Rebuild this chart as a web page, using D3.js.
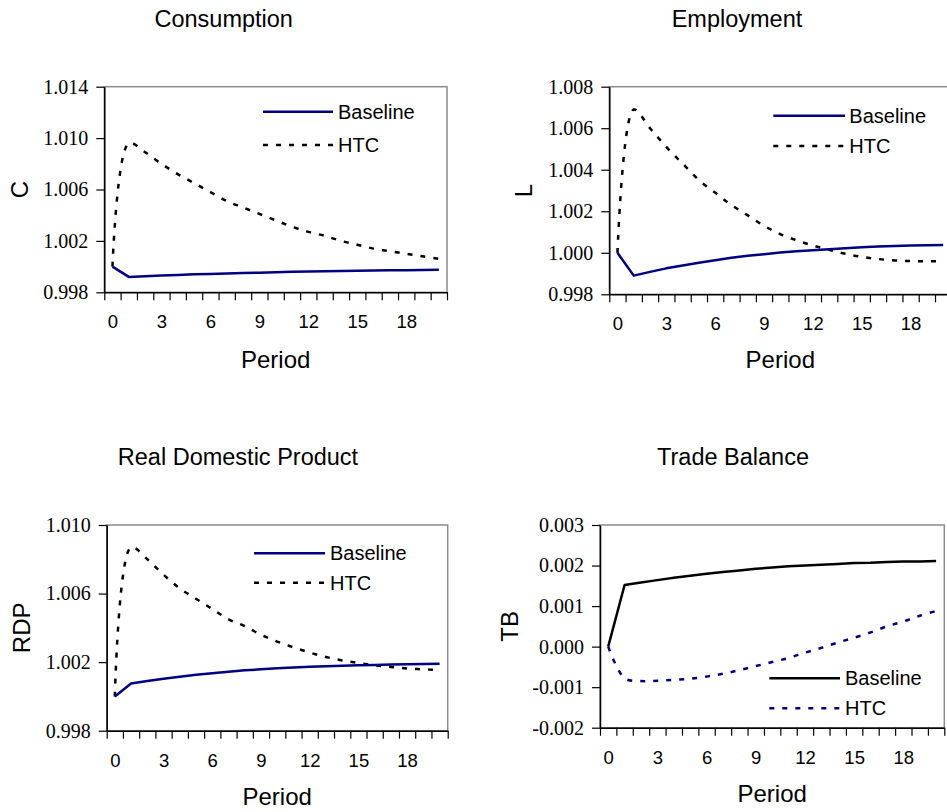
<!DOCTYPE html>
<html><head><meta charset="utf-8">
<script src="https://cdn.jsdelivr.net/npm/d3@7"></script>
<style>body{margin:0;background:#fff} svg{display:block}</style>
</head><body><svg id="c" width="947" height="812"></svg>
<script>
// ---- data ----
const periods = [0,1,2,3,4,5,6,7,8,9,10,11,12,13,14,15,16,17,18,19,20];
const xTickLabels = [0,3,6,9,12,15,18];
const seriesNames = ["Baseline","HTC"];

const consBaseline = [1.0000,0.9992,0.99925,0.9993,0.99935,0.9994,0.99943,0.99947,0.9995,0.99953,0.99956,0.99959,0.99962,0.99964,0.99966,0.99968,0.9997,0.99971,0.99972,0.99973,0.99975];
const consHTC      = [1.0000,1.0096,1.0089,1.0080,1.0072,1.0065,1.0058,1.0051,1.0046,1.0041,1.0036,1.0031,1.0027,1.0024,1.0020,1.0017,1.0014,1.0012,1.0010,1.0008,1.0006];
const consTicks    = [0.998,1.002,1.006,1.010,1.014];

const empBaseline  = [1.0000,0.9989,0.99908,0.99925,0.99939,0.99952,0.99964,0.99976,0.99986,0.99993,1.00001,1.00007,1.00012,1.00017,1.00022,1.00027,1.0003,1.00033,1.00035,1.00036,1.00037];
const empHTC       = [1.0000,1.0069,1.0060,1.0051,1.0043,1.0035,1.0029,1.0023,1.0018,1.0013,1.0009,1.0006,1.00035,1.00014,0.99995,0.9998,0.9997,0.99963,0.9996,0.99959,0.99959];
const empTicks     = [0.998,1.000,1.002,1.004,1.006,1.008];

const rdpBaseline  = [1.0000,1.00075,1.0009,1.00103,1.00115,1.00126,1.00135,1.00144,1.00152,1.00158,1.00164,1.00169,1.00173,1.00176,1.00179,1.00182,1.00184,1.00186,1.00188,1.00189,1.0019];
const rdpHTC       = [1.0000,1.0087,1.0080,1.0071,1.0063,1.0057,1.0051,1.0045,1.0041,1.0036,1.0032,1.00286,1.00256,1.0023,1.0021,1.00195,1.00182,1.00172,1.00163,1.00158,1.00154];
const rdpTicks     = [0.998,1.002,1.006,1.010];

const tbBaseline   = [0,0.00152,0.00158,0.00164,0.0017,0.00175,0.0018,0.00184,0.00188,0.00192,0.00195,0.00198,0.0020,0.00202,0.00204,0.00206,0.00207,0.00209,0.0021,0.0021,0.00211];
const tbHTC        = [0,-0.00078,-0.00085,-0.00084,-0.00082,-0.00079,-0.00074,-0.00067,-0.00058,-0.00048,-0.00038,-0.00028,-0.00015,-0.00003,0.0001,0.00022,0.00035,0.0005,0.00062,0.00076,0.00088];
const tbTicks      = [-0.002,-0.001,0.000,0.001,0.002,0.003];

// ---- layout / style ----
const NAVY = "#000080", BLACK = "#000";
const panels = [
  {title:"Consumption", ylab:"C", base:consBaseline, htc:consHTC, ticks:consTicks,
   box:{l:104.3,r:447,t:86.7,b:292.3}, tx:223.7, ty:27, ylx:19.5, lg:{x1:263,x2:333,y1:111.7,y2:145,tx:338},
   periodY:367.7, bc:NAVY, hc:BLACK},
  {title:"Employment", ylab:"L", base:empBaseline, htc:empHTC, ticks:empTicks,
   box:{l:609.3,r:951.3,t:86.7,b:294.3}, tx:737, ty:27, ylx:524, lg:{x1:773.3,x2:845,y1:115.7,y2:146,tx:849.3},
   periodY:368.3, bc:NAVY, hc:BLACK},
  {title:"Real Domestic Product", ylab:"RDP", base:rdpBaseline, htc:rdpHTC, ticks:rdpTicks,
   box:{l:106.7,r:447.7,t:525,b:730.7}, tx:238, ty:465, ylx:22, lg:{x1:254,x2:325,y1:553.3,y2:582.7,tx:330},
   periodY:805, bc:NAVY, hc:BLACK},
  {title:"Trade Balance", ylab:"TB", base:tbBaseline, htc:tbHTC, ticks:tbTicks,
   box:{l:600,r:944.3,t:525,b:727.7}, tx:733, ty:465, ylx:510, lg:{x1:769.3,x2:840,y1:678.3,y2:708.3,tx:845},
   periodY:801.7, bc:BLACK, hc:NAVY}
];

const svg = d3.select("#c");
const SANS = "'Liberation Sans', Arial, sans-serif";
const SERIF = "'Liberation Serif', 'DejaVu Serif', serif";
const DASH = "5,8";
const LW = 2.5;

panels.forEach(p => {
  const g = svg.append("g");
  const b = p.box;
  const x = d3.scaleLinear().domain([-0.5, periods.length - 0.5]).range([b.l, b.r]);
  const y = d3.scaleLinear().domain([d3.min(p.ticks), d3.max(p.ticks)]).range([b.b, b.t]);

  // plot area border (grey)
  g.append("rect").attr("x", b.l).attr("y", b.t).attr("width", b.r - b.l).attr("height", b.b - b.t)
    .attr("fill", "none").attr("stroke", "#8c8c8c").attr("stroke-width", 1.5);

  // y axis
  const ya = g.append("g").attr("transform", `translate(${b.l},0)`)
    .call(d3.axisLeft(y).tickValues(p.ticks).tickSize(8).tickSizeOuter(0).tickPadding(8)
      .tickFormat(d => d.toFixed(3)));
  ya.attr("font-family", SERIF).attr("font-size", 20);
  ya.select(".domain").attr("stroke", BLACK).attr("stroke-width", 1.5);
  ya.selectAll(".tick line").attr("stroke", BLACK).attr("stroke-width", 1.2);
  ya.selectAll("text").style("font-family", SERIF).style("font-size", "20px").attr("fill", BLACK);

  // x axis: tick marks at category boundaries
  const bounds = periods.map(d => d - 0.5).concat([periods.length - 0.5]);
  const xa = g.append("g").attr("transform", `translate(0,${b.b})`)
    .call(d3.axisBottom(x).tickValues(bounds).tickSize(8).tickSizeOuter(0).tickFormat(""));
  xa.select(".domain").attr("stroke", BLACK).attr("stroke-width", 1.5);
  xa.selectAll(".tick line").attr("stroke", BLACK).attr("stroke-width", 1.2);
  // x labels at category centres
  const xl = g.append("g").attr("transform", `translate(0,${b.b})`)
    .call(d3.axisBottom(x).tickValues(xTickLabels).tickSize(0).tickPadding(23).tickFormat(d3.format("d")));
  xl.select(".domain").remove();
  xl.selectAll("text").style("font-family", SANS).style("font-size", "18.5px").attr("fill", BLACK);

  // lines
  const lineB = d3.line().x((d, i) => x(periods[i])).y(d => y(d));
  const lineH = d3.line().x((d, i) => x(periods[i])).y(d => y(d)).curve(d3.curveCatmullRom.alpha(0.5));
  g.append("path").attr("d", lineH(p.htc)).attr("fill", "none").attr("stroke", p.hc)
    .attr("stroke-width", LW).attr("stroke-dasharray", DASH);
  g.append("path").attr("d", lineB(p.base)).attr("fill", "none").attr("stroke", p.bc)
    .attr("stroke-width", LW).attr("stroke-linejoin", "round");

  // legend
  const L = p.lg;
  g.append("line").attr("x1", L.x1).attr("x2", L.x2).attr("y1", L.y1).attr("y2", L.y1)
    .attr("stroke", p.bc).attr("stroke-width", LW);
  g.append("line").attr("x1", L.x1).attr("x2", L.x2).attr("y1", L.y2).attr("y2", L.y2)
    .attr("stroke", p.hc).attr("stroke-width", LW).attr("stroke-dasharray", DASH);
  g.append("text").attr("x", L.tx).attr("y", L.y1).attr("dy", "0.35em").text(seriesNames[0])
    .style("font-family", SANS).style("font-size", "20px");
  g.append("text").attr("x", L.tx).attr("y", L.y2).attr("dy", "0.35em").text(seriesNames[1])
    .style("font-family", SANS).style("font-size", "20px");

  // titles
  g.append("text").attr("x", p.tx).attr("y", p.ty).attr("text-anchor", "middle").text(p.title)
    .style("font-family", SANS).style("font-size", "23.5px");
  g.append("text").attr("x", (b.l + b.r) / 2).attr("y", p.periodY).attr("text-anchor", "middle").text("Period")
    .style("font-family", SANS).style("font-size", "24px");
  const cy = (b.t + b.b) / 2;
  g.append("text").attr("transform", `translate(${p.ylx},${cy}) rotate(-90)`).attr("text-anchor", "middle")
    .attr("dy", "0.35em").text(p.ylab).style("font-family", SANS).style("font-size", "24px");
});
</script></body></html>
